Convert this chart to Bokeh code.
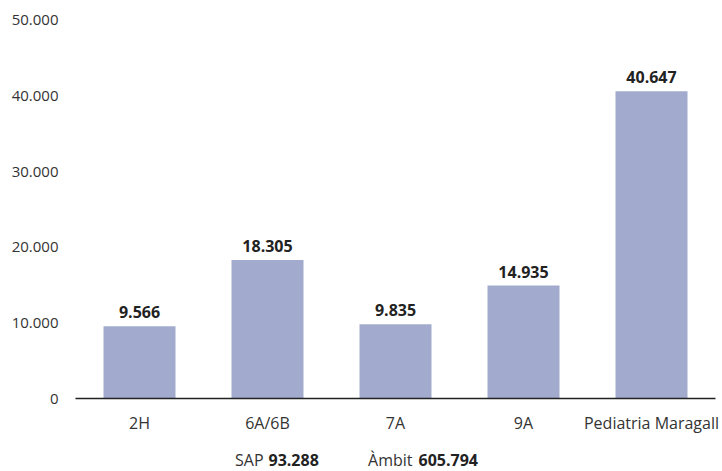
from bokeh.plotting import figure
from bokeh.layouts import column
from bokeh.models import FactorRange, Range1d, ColumnDataSource, LabelSet, FixedTicker
from bokeh.core.properties import value
from bokeh.embed import file_html
from bokeh.resources import INLINE

categories = ["2H", "6A/6B", "7A", "9A", "Pediatria Maragall"]
values = [9566, 18305, 9835, 14935, 40647]
y_ticks = [0, 10000, 20000, 30000, 40000, 50000]
y_tick_labels = ["0", "10.000", "20.000", "30.000", "40.000", "50.000"]
total_names = ["SAP", "Àmbit"]
total_values = [93288, 605794]


def fmt(v):
    return f"{v:,}".replace(",", ".")


FONT = "Open Sans"
BAR = "#a2abcd"
TXT = "#333333"
BTXT = "#222222"

src = ColumnDataSource(dict(cat=categories, val=values, lbl=[fmt(v) for v in values]))

xr = FactorRange(factors=categories)
p = figure(
    x_range=xr,
    y_range=Range1d(0, 52116),
    width=722, height=438,
    output_backend="svg", toolbar_location=None,
    min_border_left=75, min_border_right=7, min_border_top=4, min_border_bottom=40,
)
p.outline_line_color = None
p.xgrid.grid_line_color = None
p.ygrid.grid_line_color = None

p.vbar(x="cat", top="val", width=0.5625, source=src, fill_color=BAR, line_color=None)

p.add_layout(LabelSet(x="cat", y="val", text="lbl", source=src, text_align="center",
                      text_baseline="bottom", y_offset=8, text_font=value(FONT),
                      text_font_style="bold", text_font_size="16px", text_color=BTXT))

# y axis
p.yaxis.ticker = FixedTicker(ticks=y_ticks)
p.yaxis.major_label_overrides = {t: l for t, l in zip(y_ticks, y_tick_labels)}
p.yaxis.axis_line_color = None
p.yaxis.major_tick_line_color = None
p.yaxis.minor_tick_line_color = None
p.yaxis.major_label_standoff = 11
p.yaxis.major_label_text_font = FONT
p.yaxis.major_label_text_font_size = "15px"
p.yaxis.major_label_text_color = TXT

# x axis
p.xaxis.axis_line_color = "#222222"
p.xaxis.axis_line_width = 1.5
p.xaxis.major_tick_line_color = None
p.xaxis.minor_tick_line_color = None
p.xaxis.major_label_standoff = 7
p.xaxis.major_label_text_font = FONT
p.xaxis.major_label_text_font_size = "16px"
p.xaxis.major_label_text_color = TXT

# totals row below the chart, sharing the category x scale
p2 = figure(
    x_range=xr, y_range=Range1d(0, 1),
    width=722, height=33,
    output_backend="svg", toolbar_location=None,
    x_axis_location=None, y_axis_location=None,
    min_border_left=75, min_border_right=7, min_border_top=0, min_border_bottom=0,
)
p2.outline_line_color = None
p2.xgrid.grid_line_color = None
p2.ygrid.grid_line_color = None

name_x = [(263 - 75) / 128, (412 - 75) / 128]
num_x = [(268 - 75) / 128, (418 - 75) / 128]
row_y = [0.34, 0.34]
p2.text(x=name_x, y=row_y, text=total_names, text_align="right", text_baseline="middle",
        text_font=value(FONT), text_font_size="16px", text_color=TXT)
p2.text(x=num_x, y=row_y, text=[fmt(v) for v in total_values], text_align="left",
        text_baseline="middle", text_font=value(FONT), text_font_style="bold",
        text_font_size="16px", text_color=BTXT)

layout = column(p, p2, spacing=0)
open("out.html", "w").write(file_html(layout, INLINE))
